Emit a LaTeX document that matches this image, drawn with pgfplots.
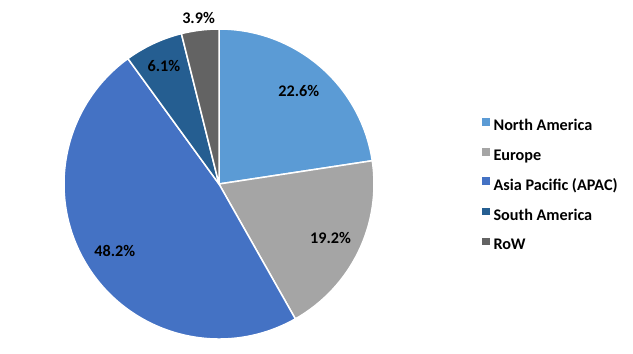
\documentclass[border=0pt]{standalone}
\usepackage{fontspec}
\setmainfont{Carlito}
\usepackage{pgfplots}
\usepackage{pgfplotstable}
\pgfplotsset{compat=1.18}
\definecolor{cNA}{HTML}{5B9BD5}
\definecolor{cEU}{HTML}{A5A5A5}
\definecolor{cAP}{HTML}{4472C4}
\definecolor{cSA}{HTML}{255E91}
\definecolor{cRW}{HTML}{636363}
\pgfplotstableread{
name value col lr
{North America} 22.6 cNA 0.79
Europe 19.2 cEU 0.80
{Asia Pacific (APAC)} 48.2 cAP 0.80
{South America} 6.1 cSA 0.84
RoW 3.9 cRW 1.08
}\piedata
\begin{document}
\begin{tikzpicture}
\path[use as bounding box] (0,0) rectangle (633bp,354bp);
\begin{axis}[
  at={(219bp,170bp)}, anchor=center,
  scale only axis, width=310bp, height=310bp,
  xmin=-1, xmax=1, ymin=-1, ymax=1,
  hide axis, clip=false,
  /pgf/number format/assume math mode=true,
  legend style={at={(1.348,0.5)}, anchor=west, draw=none, fill=none,
    font=\bfseries\fontsize{16.2bp}{16bp}\selectfont,
    row sep=17.2bp, inner sep=0pt,
    nodes={inner sep=0pt, text depth=0pt},
    /tikz/every odd column/.append style={column sep=4bp}},
  legend cell align=left,
  legend image code/.code={\fill[#1, draw=none] (0bp,-0.5bp) rectangle (7.5bp,7bp);},
]
\addlegendimage{fill=cNA}\addlegendentry{North America}
\addlegendimage{fill=cEU}\addlegendentry{Europe}
\addlegendimage{fill=cAP}\addlegendentry{Asia Pacific (APAC)}
\addlegendimage{fill=cSA}\addlegendentry{South America}
\addlegendimage{fill=cRW}\addlegendentry{RoW}
\pgfplotsextra{
  \xdef\cum{0}
  \foreach \i in {0,...,4}{
    \pgfplotstablegetelem{\i}{value}\of\piedata \let\v\pgfplotsretval
    \pgfplotstablegetelem{\i}{col}\of\piedata \let\slicecol\pgfplotsretval
    \pgfplotstablegetelem{\i}{lr}\of\piedata \let\lr\pgfplotsretval
    \pgfmathsetmacro\sa{90-3.6*\cum}
    \pgfmathsetmacro\ea{\sa-3.6*\v}
    \pgfmathsetmacro\ma{(\sa+\ea)/2}
    \fill[fill=\slicecol, draw=white, line width=1.5bp, line join=round]
      (axis cs:0,0) -- (axis cs:{cos(\sa)},{sin(\sa)}) arc[start angle=\sa, end angle=\ea, radius=155bp] -- cycle;
    \node[font=\bfseries\fontsize{16.2bp}{16bp}\selectfont] at (axis cs:{\lr*cos(\ma)},{\lr*sin(\ma)})
      {\pgfmathprintnumber[fixed,precision=1,fixed zerofill,assume math mode=true]{\v}\%};
    \pgfmathsetmacro\newcum{\cum+\v}\xdef\cum{\newcum}
  }
}
\end{axis}
\end{tikzpicture}
\end{document}
